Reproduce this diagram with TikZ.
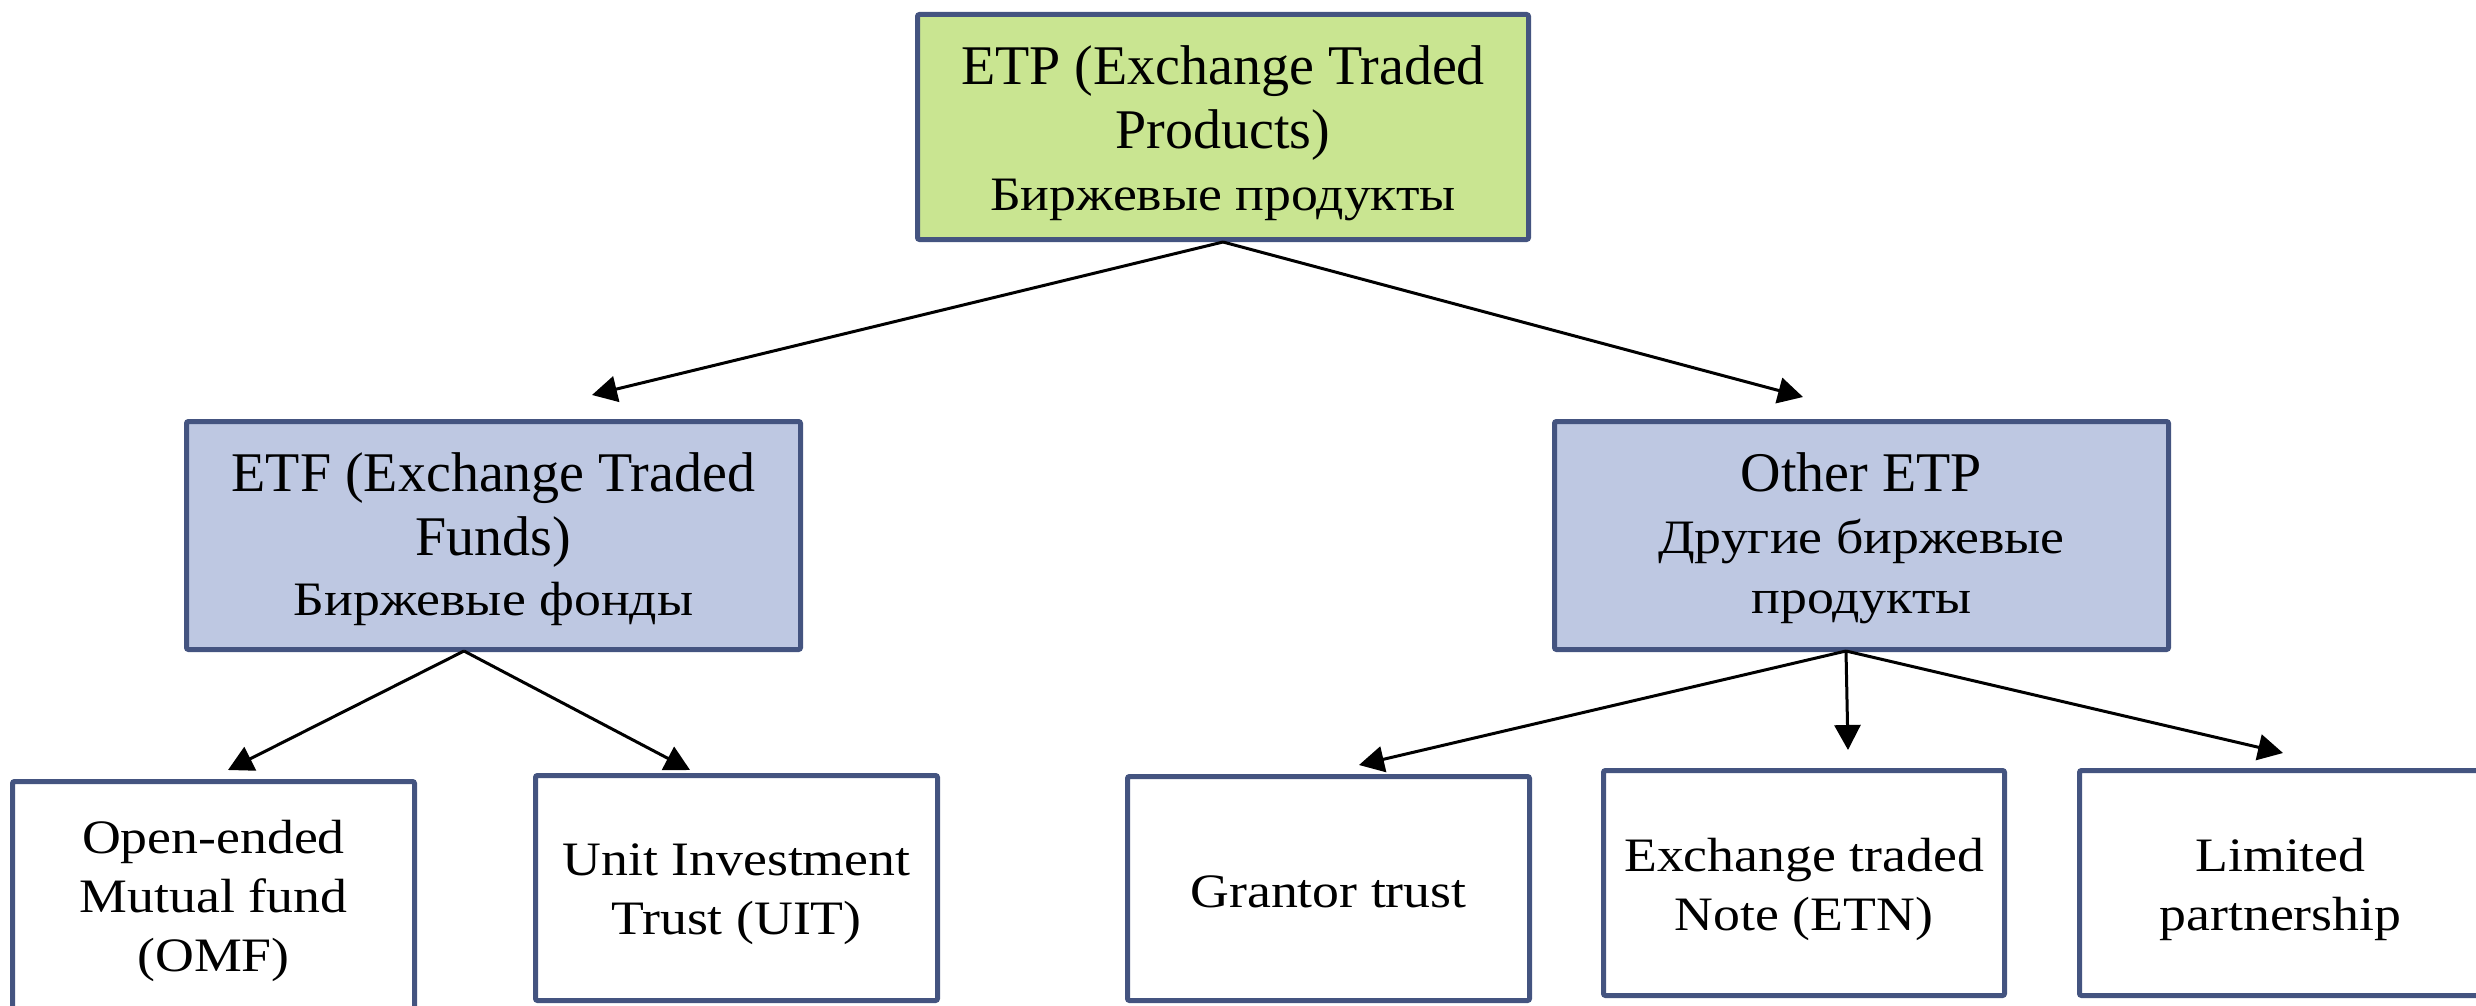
\documentclass[tikz,border=0pt]{standalone}
\usepackage{fontspec}
\setmainfont{Liberation Serif}
\newfontfamily\widefont[FakeStretch=1.12]{Liberation Serif}
\usetikzlibrary{arrows.meta}
\definecolor{bord}{HTML}{445480}
\definecolor{gfill}{HTML}{C9E591}
\definecolor{bfill}{HTML}{BEC8E2}
\newcommand{\ru}{\widefont\fontsize{48}{57}\selectfont}
% #1 name, #2 position, #3 width, #4 height, #5 fill, #6 text style, #7 text
\newcommand{\mybox}[7]{%
  \node[box, fill=#5, minimum width=#3, minimum height=#4] (#1) at #2 {};
  \node[txt, #6] (#1-t) at (#1.center) {#7};}
\begin{document}
\begin{tikzpicture}[x=1pt,y=-1pt,
  box/.style={draw=bord, line width=5pt, rounded corners=2pt, inner sep=0pt},
  txt/.style={inner sep=0pt, align=center},
  big/.style={font=\fontsize{56}{62}\selectfont},
  small/.style={font=\widefont\fontsize{48}{59}\selectfont},
  arr/.style={-{Triangle[length=25pt,width=26pt]}, line width=3pt, draw=black}]
\useasboundingbox (0,0) rectangle (2476,1006);
\clip (0,0) rectangle (2476,1006);
% level 0
\mybox{etp}{(1223,127)}{611pt}{225pt}{gfill}{big, yshift=-6pt}
  {ETP (Exchange Traded\\[2pt] Products)\\[0pt] {\ru Биржевые продукты}}
% level 1
\mybox{etf}{(493.5,535.5)}{614pt}{228pt}{bfill}{big, yshift=-3.5pt}
  {ETF (Exchange Traded\\[2pt] Funds)\\[-2pt] {\ru Биржевые фонды}}
\mybox{oth}{(1861.5,535.5)}{614pt}{228pt}{bfill}{big, yshift=-2.5pt}
  {Other ETP\\[-0.5pt] {\ru Другие биржевые}\\[-2pt] {\ru продукты}}
% level 2
\mybox{omf}{(213.5,897)}{402pt}{231pt}{white}{small, yshift=-3.5pt}
  {Open-ended\\ Mutual fund\\ (OMF)}
\mybox{uit}{(736.5,888)}{402pt}{225pt}{white}{small, yshift=-6.5pt}
  {Unit Investment\\ Trust (UIT)}
\mybox{gra}{(1328.5,888.5)}{402pt}{224pt}{white}{small, yshift=-3pt}
  {Grantor trust}
\mybox{etn}{(1804,883)}{401pt}{225pt}{white}{small, yshift=-6pt}
  {Exchange traded\\ Note (ETN)}
\mybox{lim}{(2280.5,883)}{402pt}{225pt}{white}{small, yshift=-6pt}
  {Limited\\ partnership}
% connector ends
\coordinate (s0) at (1223,242);
\coordinate (s1) at (464,651);
\coordinate (s2) at (1846,651);
\coordinate (t1) at (592,395);
\coordinate (t2) at (1803,397);
\coordinate (t3) at (228,770);
\coordinate (t4) at (690,770);
\coordinate (t5) at (1359,765);
\coordinate (t6) at (1848,750);
\coordinate (t7) at (2283,753);
\draw[arr] (s0) -- (t1);
\draw[arr] (s0) -- (t2);
\draw[arr] (s1) -- (t3);
\draw[arr] (s1) -- (t4);
\draw[arr] (s2) -- (t5);
\draw[arr] (s2) -- (t6);
\draw[arr] (s2) -- (t7);
\end{tikzpicture}
\end{document}
